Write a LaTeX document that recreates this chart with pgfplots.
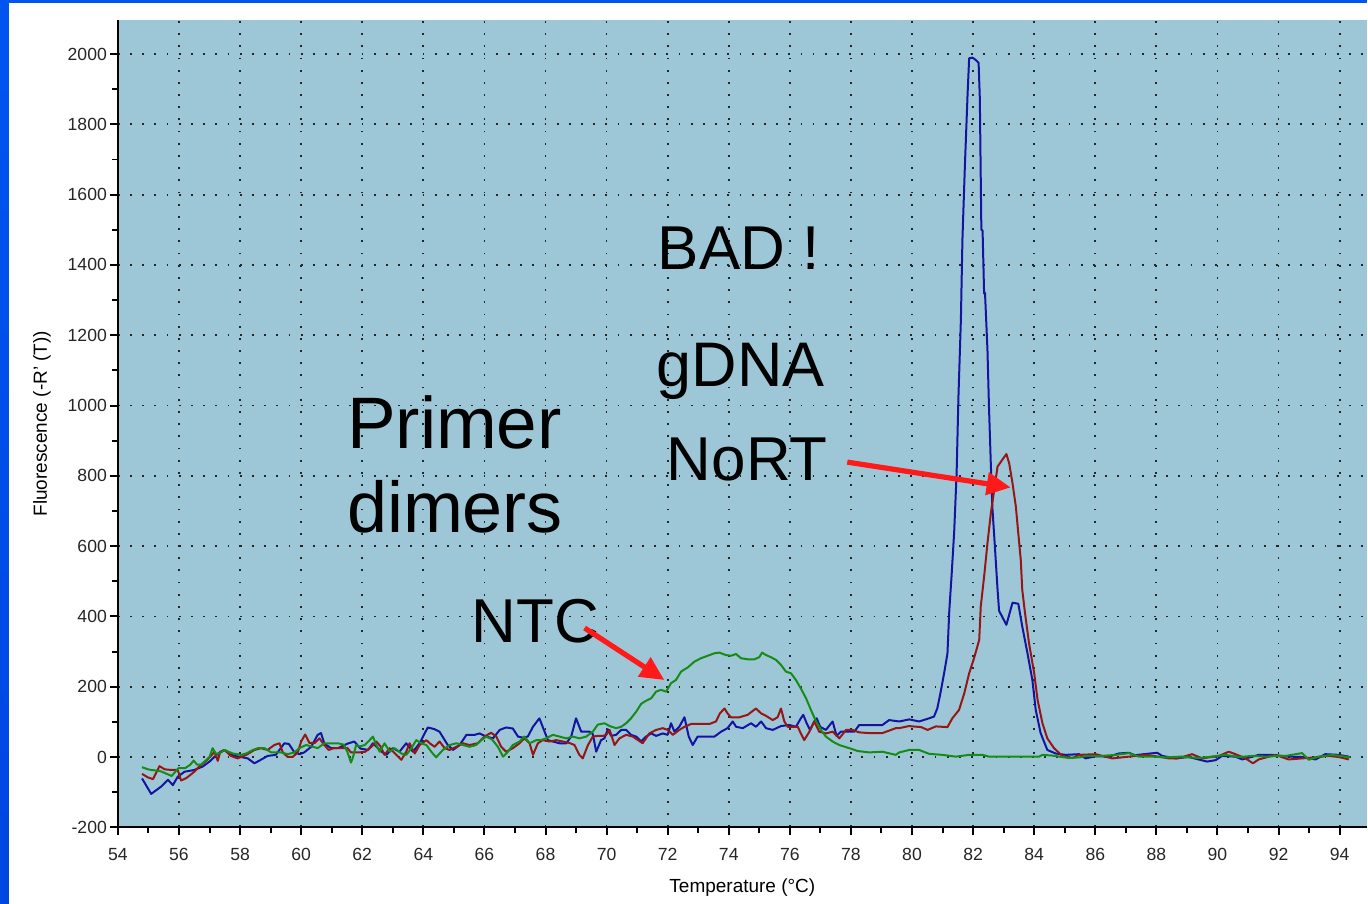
\documentclass[border=0pt]{standalone}
\usepackage{fontspec}
\setmainfont{Liberation Sans}
\usepackage{pgfplots}
\pgfplotsset{compat=1.18}
\usetikzlibrary{arrows.meta}
\definecolor{plotbg}{RGB}{157,199,214}
\definecolor{cblue}{RGB}{20,20,160}
\definecolor{cred}{RGB}{150,22,22}
\definecolor{cgreen}{RGB}{22,140,22}
\definecolor{arrowred}{RGB}{255,25,25}
\definecolor{slidetop}{RGB}{0,85,240}
\definecolor{slidemid}{RGB}{20,130,255}
\definecolor{slidebot}{RGB}{0,70,225}
\begin{document}
\begin{tikzpicture}
\fill[white] (-59pt,-38pt) rectangle (625pt,414pt);
\shade[top color=slidetop, middle color=slidemid, bottom color=slidebot] (-59pt,-38pt) rectangle (-54.5pt,414pt);
\fill[slidetop] (-59pt,412.7pt) rectangle (625pt,414pt);
\begin{axis}[
  at={(0,0)}, anchor=south west,
  scale only axis, width=625pt, height=404pt,
  xmin=54, xmax=94.89, ymin=-200, ymax=2097,
  axis background/.style={fill=plotbg},
  axis x line=bottom, axis y line=left,
  axis line style={-, line width=1.2pt, black},
  xtick={54,56,...,94}, minor x tick num=1,
  ytick={-200,0,...,2000}, minor y tick num=1,
  tick align=outside, major tick length=4pt, minor tick length=3pt,
  tick style={black, line width=1pt},
  grid=major,
  major grid style={black!85, line width=0.9pt, dash pattern=on 0.9pt off 5.2pt},
  /pgf/number format/assume math mode=true,
  /pgf/number format/1000 sep={},
  scaled ticks=false,
  tick label style={font=\fontsize{8.8}{10}\selectfont, text=black!85},
  xticklabel style={yshift=-3pt},
  yticklabel style={xshift=2pt},
  xlabel={Temperature (°C)},
  ylabel={Fluorescence (-R' (T))},
  every axis x label/.style={at={(axis description cs:0.5,-0.0743)}, anchor=center, font=\fontsize{9.5}{11}\selectfont},
  every axis y label/.style={at={(axis description cs:-0.0608,0.5)}, anchor=center, rotate=90, font=\fontsize{9.5}{11}\selectfont},
  every axis plot/.append style={line width=1pt, line join=round, mark=none},
]
% blue
\addplot[cblue] coordinates {
(54.79,-61)(55.09,-105)(55.42,-84)(55.64,-65)(55.80,-80)(55.96,-56)(56.18,-42)(56.50,-37)(56.78,-27)(57.00,-13)
(57.16,0)(57.27,9)(57.49,20)(57.81,3)(58.03,0)(58.25,-4)(58.47,-18)(58.68,-8)(58.90,3)(59.17,6)
(59.45,39)(59.60,37)(59.78,13)(59.95,8)(60.10,13)(60.33,29)(60.54,63)(60.65,68)(60.76,38)(60.98,25)
(61.20,25)(61.52,38)(61.74,44)(61.94,24)(62.19,20)(62.35,39)(62.46,30)(62.63,15)(62.79,6)(63.00,25)
(63.22,15)(63.44,39)(63.66,15)(63.88,39)(64.04,67)(64.15,84)(64.37,79)(64.53,72)(64.70,48)(64.80,34)
(64.97,20)(65.19,34)(65.41,63)(65.68,63)(65.84,67)(66.06,58)(66.28,53)(66.50,77)(66.71,84)(66.93,81)
(67.10,58)(67.26,55)(67.42,58)(67.59,86)(67.80,110)(67.97,72)(68.08,48)(68.24,44)(68.46,39)(68.68,39)
(68.84,58)(69.00,110)(69.17,72)(69.44,72)(69.55,65)(69.66,15)(69.82,48)(69.93,53)(70.04,79)(70.15,60)
(70.31,63)(70.48,77)(70.64,77)(70.80,63)(70.97,58)(71.13,44)(71.29,58)(71.46,67)(71.62,60)(71.84,67)
(72.00,63)(72.11,96)(72.22,72)(72.38,86)(72.55,113)(72.69,58)(72.82,34)(72.98,58)(73.26,58)(73.53,58)
(73.75,72)(73.96,82)(74.13,101)(74.24,86)(74.46,82)(74.73,96)(74.89,86)(75.06,101)(75.22,82)(75.44,77)
(75.71,88)(75.98,91)(76.20,86)(76.36,110)(76.44,120)(76.55,96)(76.66,77)(76.80,101)(76.88,110)(76.99,86)
(77.18,77)(77.40,101)(77.53,60)(77.67,72)(77.89,72)(78.11,72)(78.27,91)(78.60,91)(79.03,91)(79.25,105)
(79.58,101)(79.91,107)(80.23,101)(80.56,110)(80.72,115)(80.83,139)(80.94,186)(81.05,238)(81.16,294)(81.22,416)
(81.30,523)(81.38,640)(81.46,807)(81.52,1026)(81.60,1244)(81.65,1471)(81.73,1680)(81.82,1888)(81.87,1988)(81.98,1990)
(82.09,1983)(82.18,1975)(82.22,1874)(82.27,1500)(82.31,1498)(82.36,1319)(82.39,1320)(82.47,1158)(82.52,995)(82.58,833)
(82.63,711)(82.72,589)(82.80,477)(82.85,416)(83.09,376)(83.29,439)(83.48,436)(83.61,371)(83.78,295)(83.94,219)
(84.05,134)(84.21,68)(84.43,20)(84.70,10)(85.03,6)(85.47,8)(85.68,-4)(86.01,2)(86.45,1)(86.77,10)
(87.10,12)(87.30,5)(87.59,8)(88.03,12)(88.19,3)(88.63,-4)(89.06,0)(89.66,-13)(89.94,-9)(90.15,3)
(90.59,1)(90.81,-7)(91.35,6)(91.79,6)(92.33,1)(92.77,0)(93.21,-7)(93.53,8)(93.97,6)(94.30,1)
};
% red
\addplot[cred] coordinates {
(54.79,-48)(54.98,-58)(55.15,-63)(55.36,-26)(55.53,-35)(55.75,-37)(55.96,-37)(56.07,-67)(56.24,-60)(56.46,-45)
(56.68,-26)(56.89,-11)(57.05,3)(57.16,15)(57.27,-11)(57.35,15)(57.49,20)(57.70,3)(57.92,-4)(58.20,6)
(58.47,20)(58.69,25)(58.90,20)(59.12,34)(59.29,39)(59.40,13)(59.56,0)(59.72,0)(59.89,13)(60.00,44)
(60.13,64)(60.27,40)(60.45,40)(60.60,53)(60.72,38)(60.90,20)(61.06,25)(61.30,25)(61.52,25)(61.63,13)
(61.90,13)(62.10,15)(62.30,29)(62.46,44)(62.60,30)(62.73,6)(62.90,25)(63.12,6)(63.28,-8)(63.44,15)
(63.55,39)(63.72,10)(63.88,34)(64.10,48)(64.21,39)(64.37,29)(64.53,44)(64.70,25)(64.86,20)(65.08,29)
(65.30,39)(65.51,34)(65.78,39)(66.00,58)(66.22,69)(66.39,58)(66.55,29)(66.71,15)(66.93,25)(67.15,39)
(67.31,53)(67.48,39)(67.59,6)(67.75,39)(67.91,48)(68.13,44)(68.35,48)(68.57,44)(68.78,40)(68.95,34)
(69.11,6)(69.22,-4)(69.39,34)(69.55,58)(69.71,60)(69.88,60)(69.99,63)(70.10,77)(70.26,34)(70.42,53)
(70.64,63)(70.86,58)(71.18,39)(71.40,67)(71.62,77)(71.84,82)(72.00,77)(72.17,63)(72.38,77)(72.55,86)
(72.77,94)(73.04,94)(73.37,94)(73.58,101)(73.71,124)(73.86,138)(73.96,124)(74.07,113)(74.35,113)(74.62,120)
(74.89,138)(75.06,124)(75.22,117)(75.44,105)(75.60,113)(75.71,138)(75.82,101)(75.93,86)(76.09,86)(76.26,86)
(76.36,67)(76.47,48)(76.64,72)(76.80,101)(76.96,72)(77.18,67)(77.40,72)(77.62,53)(77.84,77)(78.05,77)
(78.27,70)(78.60,68)(79.03,68)(79.47,82)(79.58,82)(79.90,88)(80.02,87)(80.30,85)(80.51,77)(80.78,87)
(81.16,85)(81.32,110)(81.54,134)(81.71,181)(81.87,238)(82.03,281)(82.20,333)(82.25,428)(82.36,513)(82.47,608)
(82.58,693)(82.69,760)(82.80,826)(82.91,840)(83.09,862)(83.18,836)(83.29,779)(83.40,712)(83.48,636)(83.56,561)
(83.61,475)(83.70,409)(83.83,324)(84.00,238)(84.11,163)(84.27,96)(84.43,53)(84.65,25)(84.92,3)(85.25,-3)
(85.47,6)(86.01,8)(86.56,-4)(86.99,0)(87.65,6)(88.14,0)(88.41,-4)(88.70,-4)(89.17,8)(89.50,-4)
(90.05,3)(90.37,15)(90.59,8)(90.92,-4)(91.16,-18)(91.35,-7)(91.90,6)(92.33,-7)(92.77,-4)(93.21,-1)
(93.64,3)(93.97,0)(94.30,-7)
};
% green
\addplot[cgreen] coordinates {
(54.79,-29)(54.98,-35)(55.10,-37)(55.38,-40)(55.60,-48)(55.76,-54)(55.98,-32)(56.20,-32)(56.37,-22)(56.48,-10)
(56.59,-22)(56.72,-22)(57.00,0)(57.10,25)(57.21,9)(57.32,10)(57.49,20)(57.76,10)(58.03,6)(58.20,10)
(58.42,20)(58.58,25)(58.80,25)(59.02,13)(59.34,13)(59.56,8)(59.78,13)(59.94,25)(60.16,34)(60.35,30)
(60.54,25)(60.76,39)(61.20,39)(61.40,35)(61.52,13)(61.63,-16)(61.70,0)(61.80,34)(61.92,30)(62.08,34)
(62.24,48)(62.35,58)(62.46,34)(62.57,15)(62.73,39)(62.90,15)(63.06,25)(63.28,10)(63.44,6)(63.61,25)
(63.77,48)(63.93,39)(64.10,34)(64.26,15)(64.42,-1)(64.64,20)(64.86,34)(65.08,39)(65.30,34)(65.51,29)
(65.73,34)(65.90,48)(66.06,58)(66.25,50)(66.44,29)(66.61,1)(66.77,15)(66.93,34)(67.15,44)(67.31,58)
(67.48,39)(67.70,48)(67.85,48)(68.02,53)(68.24,63)(68.46,58)(68.68,53)(68.90,58)(69.11,53)(69.33,58)
(69.55,72)(69.71,92)(69.93,96)(70.10,88)(70.31,82)(70.48,86)(70.64,96)(70.80,110)(70.97,129)(71.13,151)
(71.29,160)(71.46,167)(71.62,186)(71.78,191)(71.95,186)(72.11,210)(72.27,219)(72.44,243)(72.66,255)(72.87,271)
(73.09,281)(73.31,288)(73.53,295)(73.69,297)(73.91,290)(74.07,288)(74.24,293)(74.40,281)(74.62,278)(74.84,278)
(75.00,284)(75.09,297)(75.22,290)(75.38,284)(75.55,276)(75.71,262)(75.87,243)(76.04,238)(76.20,219)(76.36,195)
(76.53,167)(76.69,134)(76.86,101)(77.02,77)(77.18,58)(77.40,44)(77.62,34)(77.84,28)(78.05,22)(78.22,17)
(78.60,13)(79.03,15)(79.47,6)(79.58,13)(79.91,20)(80.23,20)(80.56,9)(81.00,6)(81.43,1)(81.87,6)
(82.31,6)(82.52,1)(84.16,1)(84.27,6)(84.60,4)(85.14,-3)(85.50,-1)(85.69,3)(86.20,3)(86.67,6)
(87.10,11)(87.43,1)(87.90,1)(88.30,-1)(88.80,1)(89.39,-3)(89.80,1)(90.27,6)(90.70,0)(91.14,3)
(91.60,1)(92.00,3)(92.23,3)(92.77,11)(92.99,-8)(93.30,1)(93.76,6)(94.19,1)(94.35,-1)
};
% annotations
\node[anchor=base west, font=\fontsize{31}{36}\selectfont, inner sep=0pt] at (axis cs:71.66,1386) {BAD !};
\node[anchor=base west, font=\fontsize{31.5}{36}\selectfont, inner sep=0pt] at (axis cs:71.63,1053) {gDNA};
\node[anchor=base west, font=\fontsize{31}{36}\selectfont, inner sep=0pt] at (axis cs:71.96,788) {NoRT};
\node[anchor=base west, font=\fontsize{36.5}{40}\selectfont, inner sep=0pt] at (axis cs:61.49,879) {Primer};
\node[anchor=base west, font=\fontsize{36}{40}\selectfont, inner sep=0pt] at (axis cs:61.49,640) {dimers};
\node[anchor=base west, font=\fontsize{31}{36}\selectfont, inner sep=0pt] at (axis cs:65.58,327) {NTC};
\draw[arrowred, line width=2.6pt, -{Triangle[length=12pt, width=11pt]}] (axis cs:69.28,367) -- (axis cs:71.89,219);
\draw[arrowred, line width=2.6pt, -{Triangle[length=12pt, width=11pt]}] (axis cs:77.88,839) -- (axis cs:83.23,767);
\end{axis}
\end{tikzpicture}
\end{document}
